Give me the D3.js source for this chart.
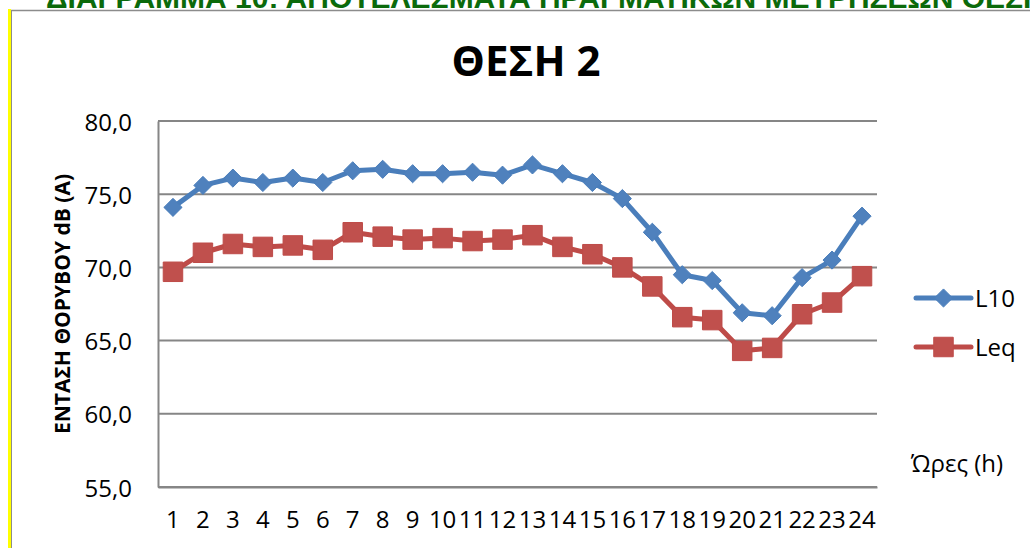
<!DOCTYPE html>
<html>
<head>
<meta charset="utf-8">
<script src="https://cdn.jsdelivr.net/npm/d3@7"></script>
<style>
  html, body { margin: 0; padding: 0; background: #fff; }
  svg { display: block; }
  text { font-family: "Open Sans", "Noto Sans", sans-serif; fill: #000; }
</style>
</head>
<body>
<div id="chart"></div>
<script>
const hours = ["1","2","3","4","5","6","7","8","9","10","11","12","13","14","15","16","17","18","19","20","21","22","23","24"];
const l10 = [74.1,75.6,76.1,75.8,76.1,75.8,76.6,76.7,76.4,76.4,76.5,76.3,77.0,76.4,75.8,74.7,72.4,69.5,69.1,66.9,66.7,69.3,70.5,73.5];
const leq = [69.7,71.0,71.6,71.4,71.5,71.2,72.4,72.1,71.9,72.0,71.8,71.9,72.2,71.4,70.9,70.0,68.7,66.6,66.4,64.3,64.5,66.8,67.6,69.4];
const yTicks = [55,60,65,70,75,80];
const seriesNames = ["L10", "Leq"];

const W = 1030, H = 548;
const plot = { left: 158, right: 877, top: 121, bottom: 487 };

const svg = d3.select("#chart")
  .append("svg")
  .attr("width", W)
  .attr("height", H)
  .attr("viewBox", `0 0 ${W} ${H}`);

// page banner above the chart (cut off at the top, as in the source page)
svg.append("text")
  .attr("x", 46)
  .attr("y", 8)
  .style("font-family", "'Liberation Sans', Arial, sans-serif")
  .style("font-weight", 700)
  .style("font-size", "30px")
  .style("fill", "#0b6a0b")
  .text("ΔΙΑΓΡΑΜΜΑ 10: ΑΠΟΤΕΛΕΣΜΑΤΑ ΠΡΑΓΜΑΤΙΚΩΝ ΜΕΤΡΗΣΕΩΝ ΘΕΣΗ 2");

// chart frame
svg.append("rect")
  .attr("x", 8).attr("y", 9)
  .attr("width", 3).attr("height", H - 9)
  .attr("fill", "#ffff00");
svg.append("line")
  .attr("x1", 11).attr("x2", W).attr("y1", 10.5).attr("y2", 10.5)
  .attr("stroke", "#8c8c8c").attr("stroke-width", 1.5);
svg.append("line")
  .attr("x1", 11.5).attr("x2", 11.5).attr("y1", 10).attr("y2", H)
  .attr("stroke", "#8c8c8c").attr("stroke-width", 1);

const x = d3.scaleBand()
  .domain(hours)
  .range([plot.left, plot.right]);

const y = d3.scaleLinear()
  .domain([55, 80])
  .range([plot.bottom, plot.top]);

// title
svg.append("text")
  .attr("x", 526)
  .attr("y", 76)
  .attr("text-anchor", "middle")
  .style("font-weight", 700)
  .style("font-size", "42px")
  .text("ΘΕΣΗ 2");

// gridlines
svg.append("g")
  .selectAll("line")
  .data(yTicks)
  .enter()
  .append("line")
  .attr("x1", plot.left)
  .attr("x2", plot.right)
  .attr("y1", d => y(d))
  .attr("y2", d => y(d))
  .attr("stroke", "#868686")
  .attr("stroke-width", 2);

// y axis
const yAxis = svg.append("g")
  .attr("transform", `translate(${plot.left},0)`)
  .call(d3.axisLeft(y).tickValues(yTicks).tickSize(0).tickPadding(26)
    .tickFormat(d => d3.format(".1f")(d).replace(".", ",")));
yAxis.select(".domain").attr("stroke", "#868686").attr("stroke-width", 2);
yAxis.selectAll("text")
  .style("font-size", "24px")
  .style("font-family", "'Open Sans', sans-serif")
  .attr("dy", "0.38em");

// x axis
const xAxis = svg.append("g")
  .attr("transform", `translate(0,${plot.bottom})`)
  .call(d3.axisBottom(x).tickSize(0).tickPadding(29));
xAxis.select(".domain").attr("stroke", "#868686").attr("stroke-width", 2);
xAxis.selectAll("text")
  .style("font-size", "24px")
  .style("font-family", "'Open Sans', sans-serif")
  .attr("dy", "0.5em");

// y axis title
svg.append("text")
  .attr("transform", "translate(70,304) rotate(-90)")
  .attr("text-anchor", "middle")
  .style("font-weight", 700)
  .style("font-size", "21px")
  .text("ΕΝΤΑΣΗ ΘΟΡΥΒΟΥ dB (A)");

// x axis title
svg.append("text")
  .attr("x", 911)
  .attr("y", 472)
  .style("font-size", "24px")
  .text("Ώρες (h)");

const series = [
  { name: seriesNames[0], values: l10, line: "#4a7ebb", fill: "#4f81bd", symbol: d3.symbolDiamond2, size: 210 },
  { name: seriesNames[1], values: leq, line: "#be4b48", fill: "#c0504d", symbol: d3.symbolSquare, size: 380 }
];

const cx = (d, i) => x(hours[i]) + x.bandwidth() / 2;

const line = d3.line()
  .x(cx)
  .y(d => y(d));

series.forEach(s => {
  svg.append("path")
    .datum(s.values)
    .attr("d", line)
    .attr("fill", "none")
    .attr("stroke", s.line)
    .attr("stroke-width", 5)
    .attr("stroke-linejoin", "round");

  svg.append("g")
    .selectAll("path")
    .data(s.values)
    .enter()
    .append("path")
    .attr("d", d3.symbol().type(s.symbol).size(s.size))
    .attr("transform", (d, i) => `translate(${cx(d, i)},${y(d)})`)
    .attr("fill", s.fill)
    .attr("stroke", s.line)
    .attr("stroke-width", 1);
});

// legend
const legend = svg.append("g")
  .selectAll("g")
  .data(series)
  .enter()
  .append("g")
  .attr("transform", (d, i) => `translate(916,${298 + i * 49})`);

legend.append("line")
  .attr("x1", 0).attr("x2", 55)
  .attr("stroke", d => d.line)
  .attr("stroke-width", 5)
  .attr("stroke-linecap", "round");

legend.append("path")
  .attr("d", d => d3.symbol().type(d.symbol).size(d.size)())
  .attr("transform", "translate(27.5,0)")
  .attr("fill", d => d.fill)
  .attr("stroke", d => d.line);

legend.append("text")
  .attr("x", 59)
  .attr("dy", "0.36em")
  .style("font-size", "24px")
  .text(d => d.name);
</script>
</body>
</html>
